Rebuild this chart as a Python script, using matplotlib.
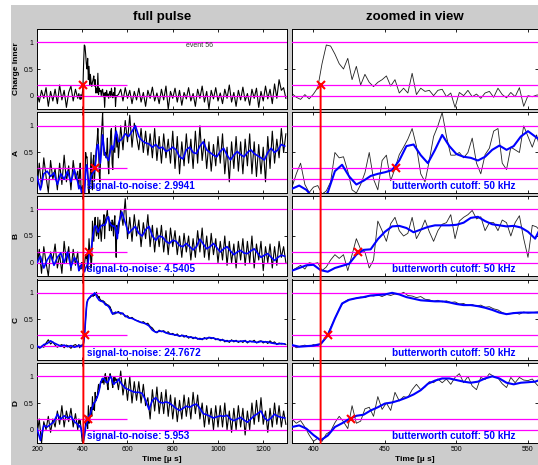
import numpy as np
import matplotlib.pyplot as plt
from matplotlib.patches import ConnectionPatch, Rectangle

plt.rcParams['font.family'] = ['Liberation Sans', 'DejaVu Sans']

# time bases in µs: coarse outside the zoom window, finer inside it
t_raw = np.concatenate([np.arange(200, 381, 10), np.arange(385, 557, 3), np.arange(560, 1301, 10)])
t_filt = np.concatenate([np.arange(200, 381, 15), np.arange(385, 556, 5), np.arange(560, 1296, 15)])

channels = ['Charge Inner', 'A', 'B', 'C', 'D']

# raw (black) traces, normalised
raw_inner = [
    0.05, -0.12, 0.1, -0.05, 0.15, -0.2, 0.08, -0.1, 0.12, -0.15, 0.2, -0.08, 0.1, -0.22, 0.06, 0.18, -0.1, 0.12, -0.05,
    0.04, -0.03, -0.07, 0.02, -0.06, 0.03, 0.15, 0.6, 0.95, 0.93,
    0.78, 0.6, 0.5, 0.7, 0.3, 0.55, 0.2, 0.4, 0.25, 0.17,
    0.25, 0.3, 0.37, 0.18, 0.3, 0.05, 0.14, 0.05, 0.42, 0.02,
    0.14, 0.08, 0.1, 0.0, 0.1, 0.12, -0.02, 0.05, -0.22, 0.06,
    0.0, 0.1, -0.02, 0.03, -0.05, 0.05, 0.08, -0.03, 0.14, 0.02,
    -0.04, 0.06, -0.02, 0.15, -0.2, 0.0, -0.02, 0.01,
    0.02, 0.12, -0.1, 0.15, -0.05, 0.1, -0.15, 0.08, -0.08,
    0.14, -0.12, 0.06, -0.2, 0.1, -0.05, 0.16, -0.1, 0.05,
    -0.15, 0.12, -0.08, 0.18, -0.25, 0.08, -0.05, 0.14, -0.12,
    0.1, -0.18, 0.06, -0.06, 0.15, -0.1, 0.04, -0.2, 0.12,
    -0.05, 0.18, -0.12, 0.08, -0.25, 0.1, -0.06, 0.15, -0.1,
    0.05, -0.15, 0.12, -0.05, 0.2, -0.12, 0.06, -0.2, 0.1,
    -0.08, 0.16, -0.1, 0.04, -0.18, 0.12, -0.05, 0.14, -0.22,
    0.08, -0.1, 0.18, -0.06, 0.12, -0.15, 0.22, -0.05, 0.3, 0.1, 0.15, -0.05,
]
raw_A = [
    -0.2, 0.3, -0.15, 0.4, 0.05, -0.25, 0.35, 0.0, 0.2, -0.2, 0.3, -0.1, 0.45, -0.05, 0.25, -0.2, 0.35, 0.0, 0.15,
    -0.15, 0.1, 0.3, -0.1, -0.25, -0.15, -0.12, -0.28, -0.22, -0.05,
    0.5, 0.4, 0.42, 0.15, -0.2, -0.26, -0.1, 0.12, 0.5, 0.0,
    -0.2, 0.35, 0.45, -0.03, 0.2, 0.46, 0.6, 0.75, 0.95, 0.62,
    0.1, -0.05, 0.35, 0.8, 1.0, 1.25, 0.8, 0.45, 0.45, 0.5,
    0.4, 0.5, 0.77, 0.3, 0.1, 0.46, 0.58, 0.9, 0.95, 0.3,
    0.18, 0.6, 0.55, 0.5, 1.0, 0.8, 0.6, 0.83,
    0.4, 1.0, 0.55, 1.1, 0.7, 1.2, 0.6, 1.05, 0.8,
    0.55, 0.95, 0.5, 0.9, 0.45, 0.85, 0.4, 0.95, 0.35,
    0.8, 0.3, 0.85, 0.4, 0.75, 0.3, 0.9, 0.2, 0.8,
    0.1, 0.7, 0.25, 0.85, 0.3, 0.75, 0.2, 0.9, 0.3,
    1.0, 0.35, 0.75, 0.2, 0.7, 0.15, 0.65, 0.25, 0.8,
    0.3, 0.85, 0.1, 0.6, -0.05, 0.7, 0.2, 0.8, 0.15,
    0.7, 0.1, 0.75, 0.25, 0.85, 0.1, 0.7, 0.05, 0.65,
    0.1, 0.6, -0.05, 0.8, 0.2, 0.9, 0.3, 0.75, 0.4, 0.95, 0.5, 0.85,
]
raw_B = [
    -0.1, 0.25, -0.2, 0.3, 0.0, -0.25, 0.2, 0.05, 0.35, -0.1, 0.15, -0.2, 0.4, 0.0, 0.3, -0.15, 0.25, -0.05, 0.2,
    -0.15, -0.1, -0.05, -0.12, 0.0, -0.02, 0.0, -0.15, -0.08, 0.05,
    0.15, 0.08, 0.15, -0.15, 0.15, 0.45, 0.25, 0.2, -0.1, 0.05,
    0.78, 0.6, 0.4, 0.73, 0.85, 0.6, 0.5, 0.55, 0.85, 0.45,
    0.6, 0.8, 0.58, 0.4, 0.6, 0.72, 0.75, 0.9, 0.45, 0.78,
    0.85, 0.9, 0.98, 0.82, 0.86, 0.6, 0.75, 0.75, 0.6, 0.8,
    0.75, 0.5, 0.75, 0.88, 0.45, 0.1, 0.7, 0.67,
    0.55, 1.0, 0.7, 1.2, 0.45, 0.85, 0.4, 0.9, 0.5,
    0.8, 0.3, 0.75, 0.45, 0.9, 0.3, 0.7, 0.2, 0.65,
    0.3, 0.7, 0.2, 0.6, 0.15, 0.65, 0.3, 0.6, 0.15,
    0.5, 0.1, 0.55, 0.2, 0.5, 0.05, 0.45, 0.1, 0.6,
    0.2, 0.65, 0.1, 0.5, 0.05, 0.55, 0.15, 0.45, 0.0,
    0.4, 0.05, 0.5, -0.05, 0.4, 0.0, 0.35, -0.1, 0.4,
    0.05, 0.45, -0.05, 0.4, 0.0, 0.5, -0.1, 0.35, 0.05,
    0.4, -0.15, 0.3, 0.0, 0.35, -0.1, 0.3, -0.05, 0.4, 0.1, 0.3, 0.0,
]
raw_C = [
    0.02, -0.04, 0.0, -0.02, 0.06, 0.12, 0.04, 0.08, 0.02, -0.02, 0.01, 0.03, -0.03, 0.02, 0.0, -0.04, 0.01, 0.03, -0.01,
    0.03, -0.03, 0.0, 0.02, -0.01, 0.03, 0.01, 0.06, 0.17, 0.35,
    0.52, 0.7, 0.82, 0.87, 0.88, 0.9, 0.92, 0.91, 0.95, 0.94,
    0.96, 0.93, 0.97, 0.95, 0.98, 0.97, 1.01, 0.95, 0.94, 0.91,
    0.93, 0.88, 0.87, 0.84, 0.86, 0.83, 0.85, 0.82, 0.83, 0.79,
    0.8, 0.76, 0.78, 0.75, 0.77, 0.73, 0.74, 0.7, 0.68, 0.63,
    0.6, 0.61, 0.63, 0.6, 0.64, 0.62, 0.63, 0.64,
    0.65, 0.6, 0.62, 0.55, 0.57, 0.52, 0.54, 0.5, 0.48,
    0.47, 0.44, 0.46, 0.42, 0.43, 0.37, 0.34, 0.28, 0.25,
    0.3, 0.27, 0.29, 0.25, 0.27, 0.22, 0.24, 0.2, 0.23,
    0.18, 0.21, 0.17, 0.2, 0.15, 0.18, 0.14, 0.17, 0.13,
    0.15, 0.12, 0.16, 0.13, 0.17, 0.14, 0.16, 0.12, 0.14,
    0.1, 0.13, 0.08, 0.11, 0.07, 0.12, 0.08, 0.11, 0.07,
    0.1, 0.07, 0.11, 0.06, 0.1, 0.08, 0.11, 0.06, 0.09,
    0.1, 0.06, 0.09, 0.05, 0.1, 0.06, 0.08, 0.03, 0.06, 0.04, 0.05, 0.03,
]
raw_D = [
    -0.1, 0.2, -0.25, 0.15, 0.0, 0.25, -0.05, 0.2, 0.05, 0.35, 0.1, 0.45, 0.05, 0.35, 0.15, 0.4, 0.05, 0.3, 0.0,
    0.2, 0.12, 0.17, 0.05, -0.1, -0.22, -0.16, -0.22, -0.08, -0.03,
    0.13, 0.25, 0.15, 0.02, 0.45, 0.12, 0.16, 0.39, 0.42, 0.25,
    0.62, 0.38, 0.5, 0.36, 0.7, 0.54, 0.62, 0.6, 0.75, 0.85,
    0.75, 0.8, 0.9, 0.88, 0.95, 0.88, 0.95, 0.85, 0.98, 1.05,
    0.88, 1.0, 0.82, 0.75, 0.98, 0.94, 1.05, 1.0, 0.97, 0.86,
    0.79, 0.98, 0.88, 0.98, 0.93, 0.92, 0.95, 0.85,
    0.75, 1.1, 0.65, 0.95, 0.55, 1.0, 0.5, 0.9, 0.55,
    0.9, 0.5, 0.85, 0.45, 0.6, 0.2, 0.75, 0.35, 0.8,
    0.3, 0.7, 0.3, 0.75, 0.25, 0.65, 0.2, 0.6, 0.15,
    0.55, 0.2, 0.65, 0.25, 0.6, 0.2, 0.7, 0.3, 0.65,
    0.2, 0.5, 0.05, 0.45, 0.1, 0.4, 0.0, 0.45, 0.05,
    0.45, 0.05, 0.5, 0.0, 0.35, -0.05, 0.4, 0.0, 0.45,
    0.05, 0.4, -0.1, 0.35, 0.0, 0.5, 0.1, 0.55, 0.15,
    0.6, 0.1, 0.35, -0.05, 0.4, 0.05, 0.5, 0.1, 0.45, 0.05, 0.35, 0.1,
]

# butterworth filtered (blue) traces
filt_A = [
    0.05, -0.2, 0.1, 0.15, 0.05, 0.12, -0.1, 0.1, 0.0, 0.15, -0.05, 0.18, -0.05,
    -0.18, -0.12, -0.2, -0.35, -0.4, -0.25, 0.15, 0.27, 0.05, -0.1,
    -0.03, 0.06, 0.1, 0.13, 0.17, 0.35, 0.62, 0.65, 0.45, 0.3,
    0.55, 0.83, 0.62, 0.47, 0.42, 0.4, 0.35, 0.42, 0.55, 0.63,
    0.55, 0.62, 0.8, 0.9, 0.8,
    0.7, 0.75, 0.85, 0.8, 0.9, 1.0, 0.8, 0.72, 0.68, 0.66,
    0.6, 0.65, 0.58, 0.6, 0.52, 0.55, 0.6, 0.55, 0.42, 0.38,
    0.55, 0.6, 0.5, 0.48, 0.62, 0.7, 0.55, 0.5, 0.45, 0.42,
    0.52, 0.58, 0.45, 0.36, 0.45, 0.52, 0.46, 0.42, 0.5, 0.55,
    0.48, 0.44, 0.4, 0.36, 0.5, 0.58, 0.5, 0.55, 0.65, 0.62,
]
filt_B = [
    0.0, 0.12, -0.1, 0.05, 0.15, -0.05, 0.1, 0.18, 0.0, 0.2, -0.08, 0.1, 0.0,
    -0.15, -0.1, -0.05, -0.04, -0.14, -0.17, -0.1, -0.06, -0.02, 0.15,
    0.24, 0.25, 0.44, 0.58, 0.68, 0.69, 0.65, 0.57, 0.62, 0.67,
    0.7, 0.7, 0.7, 0.71, 0.75, 0.84, 0.86, 0.78, 0.72, 0.7,
    0.68, 0.69, 0.66, 0.58, 0.45,
    0.72, 0.95, 0.75, 0.55, 0.62, 0.68, 0.55, 0.5, 0.62, 0.68,
    0.5, 0.42, 0.5, 0.48, 0.4, 0.36, 0.42, 0.4, 0.32, 0.3,
    0.36, 0.3, 0.24, 0.3, 0.44, 0.35, 0.26, 0.3, 0.36, 0.28,
    0.2, 0.26, 0.3, 0.22, 0.15, 0.2, 0.23, 0.18, 0.17, 0.22,
    0.26, 0.18, 0.1, 0.14, 0.17, 0.1, 0.04, 0.1, 0.14, 0.12,
]
filt_C = [
    0.0, -0.03, 0.03, 0.05, 0.1, 0.06, 0.03, 0.0, 0.02, -0.01, 0.01, -0.02, 0.0,
    0.02, -0.01, 0.0, 0.01, 0.04, 0.2, 0.52, 0.8, 0.87, 0.9,
    0.92, 0.95, 0.96, 0.97, 1.0, 0.97, 0.92, 0.89, 0.86, 0.85,
    0.84, 0.84, 0.82, 0.79, 0.77, 0.77, 0.75, 0.72, 0.68, 0.63,
    0.6, 0.62, 0.63, 0.63, 0.63,
    0.63, 0.62, 0.57, 0.53, 0.52, 0.49, 0.46, 0.44, 0.42, 0.38,
    0.3, 0.26, 0.28, 0.28, 0.25, 0.23, 0.22, 0.21, 0.19, 0.2,
    0.18, 0.17, 0.16, 0.15, 0.13, 0.14, 0.15, 0.16, 0.15, 0.13,
    0.12, 0.11, 0.09, 0.1, 0.1, 0.09, 0.09, 0.1, 0.08, 0.09,
    0.08, 0.07, 0.09, 0.08, 0.08, 0.06, 0.05, 0.04, 0.05, 0.04,
]
filt_D = [
    0.02, -0.2, 0.08, 0.05, 0.1, 0.15, 0.29, 0.2, 0.26, 0.22, 0.25, 0.15, 0.1,
    0.05, 0.08, 0.02, -0.1, -0.2, -0.11, 0.05, 0.12, 0.2, 0.26,
    0.28, 0.36, 0.42, 0.49, 0.51, 0.55, 0.6, 0.66, 0.74, 0.86,
    0.92, 0.96, 0.96, 0.93, 0.9, 0.88, 0.9, 0.96, 1.0, 0.96,
    0.88, 0.85, 0.88, 0.89, 0.9,
    0.95, 0.85, 0.78, 0.75, 0.72, 0.7, 0.7, 0.68, 0.55, 0.38,
    0.55, 0.6, 0.52, 0.5, 0.52, 0.5, 0.45, 0.4, 0.36, 0.4,
    0.44, 0.42, 0.46, 0.48, 0.4, 0.3, 0.28, 0.25, 0.22, 0.24,
    0.26, 0.25, 0.27, 0.2, 0.17, 0.2, 0.23, 0.18, 0.14, 0.2,
    0.26, 0.3, 0.35, 0.22, 0.17, 0.22, 0.29, 0.25, 0.23, 0.22,
]

raw = [raw_inner, raw_A, raw_B, raw_C, raw_D]
filt = [None, filt_A, filt_B, filt_C, filt_D]
snr = [None, '2.9941', '4.5405', '24.7672', '5.953']
cross_t = [405, 458, 431, 410, 426]   # threshold crossing times (µs)
trigger_t = 405
threshold = 0.2
event_no = 56

# ---- layout (pixel based, MATLAB-ish figure) ----
W, H = 538, 465
fig = plt.figure(figsize=(W / 100, H / 100), dpi=100, facecolor='#cccccc')
fig.add_artist(Rectangle((0, 1 - 5 / H), 1, 5 / H, transform=fig.transFigure,
                         facecolor='white', edgecolor='none', zorder=-1))
fig.add_artist(Rectangle((0, 0), 11 / W, 1, transform=fig.transFigure,
                         facecolor='white', edgecolor='none', zorder=-1))

cols = [(37, 287), (292, 538)]
row_top = [29, 112.5, 196, 279.5, 363]
row_h = 80
MAG = '#ff00ff'

axes = [[None] * 5, [None] * 5]
for c, (x0, x1) in enumerate(cols):
    for r in range(5):
        ax = fig.add_axes([x0 / W, 1 - (row_top[r] + row_h) / H, (x1 - x0) / W, row_h / H])
        axes[c][r] = ax
        zoom = c == 1
        ax.plot(t_raw, raw[r], color='#222222' if zoom else 'black', lw=0.6 if zoom else 0.8, zorder=2)
        ax.axhline(1, color=MAG, lw=0.9, zorder=3)
        ax.axhline(0, color=MAG, lw=0.9, zorder=3)
        if zoom:
            ax.axhline(threshold, color=MAG, lw=0.9, zorder=3)
        else:
            ax.hlines(threshold, 200, 600, color=MAG, lw=0.9, zorder=3)
        if filt[r] is not None:
            ax.plot(t_filt, filt[r], color='#0000ff', lw=1.5 if zoom else 1.2, zorder=4)
            if zoom:
                ax.text(455, -0.12, 'butterworth cutoff: 50 kHz', color='#0000ff',
                        fontsize=7.2, fontweight='bold', va='center', zorder=6)
            else:
                ax.text(420, -0.12, 'signal-to-noise: ' + snr[r], color='#0000ff',
                        fontsize=7.2, fontweight='bold', va='center', zorder=6)
        ax.plot(cross_t[r], threshold, 'x', color='red', ms=6, mew=1.5, zorder=7)

        ax.set_xlim(385, 557) if zoom else ax.set_xlim(200, 1305)
        ax.set_ylim(-0.25, 1.25)
        ax.set_yticks([0, 0.5, 1])
        ax.set_yticklabels([] if zoom else ['0', '0.5', '1'])
        xt = [400, 450, 500, 550] if zoom else [200, 400, 600, 800, 1000, 1200]
        ax.set_xticks(xt)
        ax.set_xticklabels([str(v) for v in xt] if r == 4 else [])
        ax.tick_params(direction='in', top=True, right=True, length=2, width=0.6,
                       labelsize=5, pad=2.5)
        for s in ax.spines.values():
            s.set_linewidth(0.7)
        if r == 4:
            ax.set_xlabel('Time [µ s]', fontsize=6, fontweight='bold', labelpad=1.5)

    # red trigger line running from the top marker down through all rows
    con = ConnectionPatch(xyA=(trigger_t, threshold), coordsA=axes[c][0].transData,
                          xyB=(trigger_t, -0.25), coordsB=axes[c][4].transData,
                          color='red', lw=1.4, zorder=10)
    fig.add_artist(con)

axes[0][0].text(920, 0.94, f'event {event_no}', fontsize=5, color='#333333',
                ha='center', va='center')

fig.text(162 / W, 1 - 17 / H, 'full pulse', fontsize=9.5, fontweight='bold', ha='center', va='center')
fig.text(415 / W, 1 - 17 / H, 'zoomed in view', fontsize=9.5, fontweight='bold', ha='center', va='center')
for r, name in enumerate(channels):
    fig.text(16 / W, 1 - (row_top[r] + row_h / 2) / H, name, rotation=90, fontsize=6,
             fontweight='bold', ha='center', va='center')

fig.savefig('out.png', dpi=100, facecolor=fig.get_facecolor())
